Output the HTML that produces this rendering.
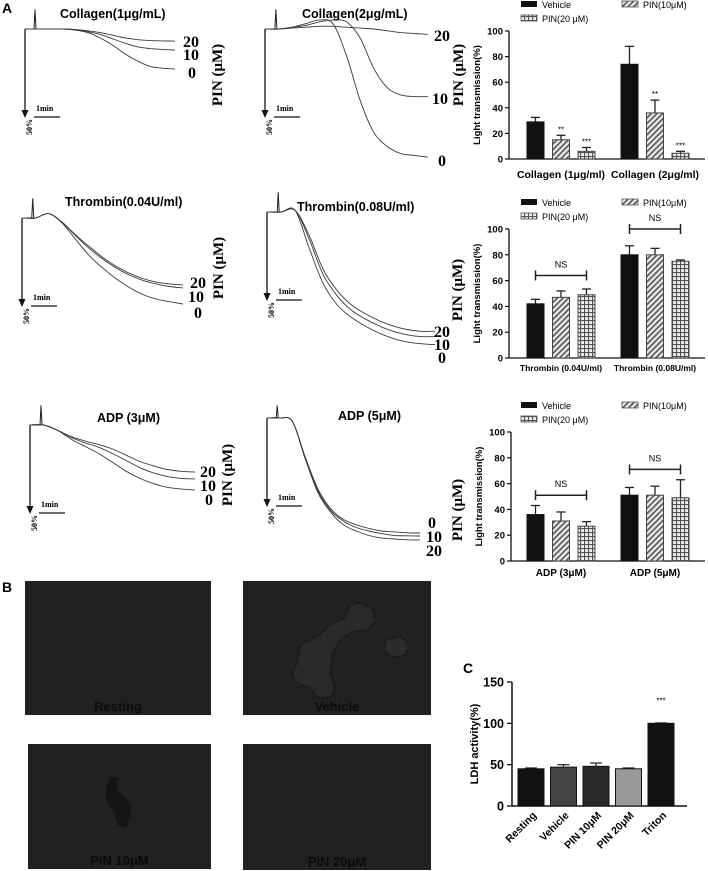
<!DOCTYPE html>
<html><head><meta charset="utf-8"><style>
html,body{margin:0;padding:0;background:#fff;}
svg{display:block;}
.t{font-family:"Liberation Sans",sans-serif;font-weight:bold;}
.s{font-family:"Liberation Serif",serif;font-weight:bold;}
</style></head><body>
<svg id="fig" width="708" height="871" viewBox="0 0 708 871" xmlns="http://www.w3.org/2000/svg">
<defs>
<pattern id="hatch" width="4" height="4" patternUnits="userSpaceOnUse" patternTransform="rotate(45)"><rect width="4" height="4" fill="#e8e8e8"/><rect width="1.6" height="4" fill="#555"/></pattern>
<pattern id="grid" width="4" height="4" patternUnits="userSpaceOnUse"><rect width="4" height="4" fill="#eee"/><rect width="4" height="1.1" fill="#555"/><rect width="1.1" height="4" fill="#555"/></pattern>
</defs>
</svg>
<script>
// ---------- Trace data (light transmission change %, time in minutes) ----------
const traceTimes = [0,0.5,1,1.5,2,2.5,3,3.5,4,4.5,5,5.5,6];
const col1_pin0  = [0,0,0,0,0.5,2,5,9,14,18,21,22,22.5];
const col1_pin10 = [0,0,0,0,0.5,1.5,3,5.5,8,10,11,11.5,11.8];
const col1_pin20 = [0,0,0,0,0.3,1,2,3.5,5,6,6.5,6.7,6.8];
const col2_pin0  = [0,0,-1,-3,-5,-3,15,40,58,66,70,71,72];
const col2_pin10 = [0,0,-1,-2,-4,-5,-4,5,22,33,37,38,38];
const col2_pin20 = [0,0,-0.5,-1,-1.5,-1.5,-1,-0.5,0,1,2,2.5,3];
const thr1_pin0  = [0,0,-2.5,3,12,21,28,34,39,43,45.5,47,48.3];
const thr1_pin10 = [0,0,-2.5,2.5,10,17,23,28,32,35,37,38.5,39.3];
const thr1_pin20 = [0,0,-2.5,2.5,9.5,16,22,27,31,34,36,37,37.6];
const thr2_pin0  = [0,0,-1,20,40,52,59,64,68,71,73,74,74.5];
const thr2_pin10 = [0,0,-1,15,35,47,55,60,64,67,69,70,70];
const thr2_pin20 = [0,0,-1,13,32,44,52,57,61,64,66,67,67];
const adp1_pin0  = [0,0,3,8,12,16,21,26,30,33,35,36,36.5];
const adp1_pin10 = [0,0,3,7,10,12.5,16,20,24,27,29,30,30.3];
const adp1_pin20 = [0,0,3,6.5,9,11,13.5,17,20.5,23,25,26,26.4];
const adp2_pin0  = [0,0,2,22,40,51,57,60,62,63.5,64,64.5,64.6];
const adp2_pin10 = [0,0,2,23,41,52,58,61.5,63.5,65,66,66.2,66.3];
const adp2_pin20 = [0,0,2,23,42,53,60,63.5,66,67.5,68,68.4,68.5];
const spikeHeights = [11,11,11,11,11,7];

// ---------- Bar data ----------
const legendLabels = ['Vehicle','PIN(10μM)','PIN(20 μM)'];
const colCats = ['Collagen (1μg/ml)','Collagen (2μg/ml)'];
const colVehicle = [29,74], colVehicleErr=[3.5,14];
const colPin10 = [15,36], colPin10Err=[3.5,10];
const colPin20 = [6,4.5], colPin20Err=[3,1.5];
const colPin10Stars = ['**','**'], colPin20Stars=['***','***'];
const thrCats = ['Thrombin (0.04U/ml)','Thrombin (0.08U/ml)'];
const thrVehicle=[42,80], thrVehicleErr=[3.5,7];
const thrPin10=[47,80], thrPin10Err=[5,5];
const thrPin20=[49,75], thrPin20Err=[4.5,1];
const thrNS=[64,100];
const adpCats=['ADP (3μM)','ADP (5μM)'];
const adpVehicle=[36,51], adpVehicleErr=[7,6];
const adpPin10=[31,51], adpPin10Err=[7,7];
const adpPin20=[27,49], adpPin20Err=[3.5,14];
const adpNS=[51,71];
const barTicks=[0,20,40,60,80,100];
const ldhCats=['Resting','Vehicle','PIN 10μM','PIN 20μM','Triton'];
const ldhValues=[45,47,48,45,100];
const ldhErr=[1,3,4,1,0.5];
const ldhTicks=[0,50,100,150];

const NS='http://www.w3.org/2000/svg';
const svg=document.getElementById('fig');
function mk(tag,attrs,parent,text){const e=document.createElementNS(NS,tag);for(const k in attrs)e.setAttribute(k,attrs[k]);if(text!==undefined)e.textContent=text;(parent||svg).appendChild(e);return e;}

[['A',2,13],['B',2,592],['C',463,673]].forEach(([l,x,y])=>{
  const e=mk('text',{x:x,y:y,class:'t','font-size':14},svg,l);
  
  
});

function smooth(pts){let d='M'+pts[0][0]+','+pts[0][1];for(let i=0;i<pts.length-1;i++){const p0=pts[i-1]||pts[i],p1=pts[i],p2=pts[i+1],p3=pts[i+2]||p2;const c1x=p1[0]+(p2[0]-p0[0])/6,c1y=p1[1]+(p2[1]-p0[1])/6,c2x=p2[0]-(p3[0]-p1[0])/6,c2y=p2[1]-(p3[1]-p1[1])/6;d+=' C'+c1x.toFixed(1)+','+c1y.toFixed(1)+' '+c2x.toFixed(1)+','+c2y.toFixed(1)+' '+p2[0].toFixed(1)+','+p2[1].toFixed(1);}return d;}
function tracePanel(cfg,series,spike){
  const g=mk('g',{});
  
  
  const xs=t=>cfg.x0+t*(cfg.x1-cfg.x0)/6;
  const ys=v=>cfg.y0+v*1.78;
  mk('line',{x1:cfg.x0,y1:cfg.y0,x2:cfg.x0,y2:cfg.y0+84,stroke:'#111','stroke-width':1.3},g);
  mk('path',{d:`M${cfg.x0-3.5},${cfg.y0+81} L${cfg.x0+3.5},${cfg.y0+81} L${cfg.x0},${cfg.y0+89} Z`,fill:'#111'},g);
  const sx=xs(0.4);
  mk('path',{d:`M${cfg.x0},${cfg.y0} L${sx-1},${cfg.y0} L${sx},${ys(-spike)} L${sx+1},${cfg.y0} L${xs(0.5)},${cfg.y0}`,fill:'none',stroke:'#222','stroke-width':1},g);
  series.forEach((s,i)=>{
    const pts=traceTimes.map((t,j)=>[xs(t),ys(s[j])]);
    const p=mk('path',{d:smooth(pts),fill:'none',stroke:'#3a3a3a','stroke-width':0.9},g);
    
    
  });
  mk('line',{x1:cfg.x0+9,y1:cfg.y0+88,x2:cfg.x0+35,y2:cfg.y0+88,stroke:'#111','stroke-width':1.2},g);
  mk('text',{x:cfg.x0+11,y:cfg.y0+82,class:'s','font-size':8},g,'1min');
  mk('text',{x:0,y:0,class:'s','font-size':8,transform:`translate(${cfg.x0+7},${cfg.y0+106}) rotate(-90)`},g,'50%');
  const tt=mk('text',{x:cfg.tx,y:cfg.ty,class:'t','font-size':12.5},g,cfg.title);
  
  
  cfg.labels.forEach(([txt,x,y])=>mk('text',{x:x,y:y,class:'s','font-size':16},g,txt));
  mk('text',{x:0,y:0,class:'s','font-size':15,'text-anchor':'middle',transform:`translate(${cfg.px},${cfg.py}) rotate(-90)`},g,'PIN (μM)');
}
tracePanel({name:'trace-collagen-1',x0:25,x1:175,y0:29,tx:60,ty:18,title:'Collagen(1μg/mL)',labels:[['20',183,47],['10',183,60],['0',188,78]],px:222,py:75},[col1_pin0,col1_pin10,col1_pin20],spikeHeights[0]);
tracePanel({name:'trace-collagen-2',x0:265,x1:428,y0:29,tx:302,ty:18,title:'Collagen(2μg/mL)',labels:[['20',434,41],['10',432,104],['0',438,166]],px:463,py:75},[col2_pin0,col2_pin10,col2_pin20],spikeHeights[1]);
tracePanel({name:'trace-thrombin-1',x0:22,x1:183,y0:218,tx:65,ty:206,title:'Thrombin(0.04U/ml)',labels:[['20',190,288],['10',188,302],['0',194,318]],px:223,py:268},[thr1_pin0,thr1_pin10,thr1_pin20],spikeHeights[2]);
tracePanel({name:'trace-thrombin-2',x0:267,x1:435,y0:212,tx:297,ty:211,title:'Thrombin(0.08U/ml)',labels:[['20',434,337],['10',434,350],['0',438,363]],px:462,py:290},[thr2_pin0,thr2_pin10,thr2_pin20],spikeHeights[3]);
tracePanel({name:'trace-adp-1',x0:30,x1:195,y0:425,tx:97,ty:422,title:'ADP (3μM)',labels:[['20',200,477],['10',200,491],['0',205,505]],px:232,py:475},[adp1_pin0,adp1_pin10,adp1_pin20],spikeHeights[4]);
tracePanel({name:'trace-adp-2',x0:267,x1:420,y0:418,tx:338,ty:420,title:'ADP (5μM)',labels:[['0',428,528],['10',426,542],['20',426,556]],px:462,py:510},[adp2_pin0,adp2_pin10,adp2_pin20],spikeHeights[5]);

const fills=['#111','url(#hatch)','url(#grid)'];
function barChart(cfg,vals,errs,stars,ns){
  const g=mk('g',{});
  
  
  const y=v=>cfg.yZero-(v/100)*(cfg.yZero-cfg.yTop);
  const bx=(gi,i)=>cfg.start+gi*94+i*25.5;
  const lg=[[521,cfg.ly,0],[622,cfg.ly,1],[521,cfg.ly+14,2]];
  lg.forEach(([x,yy,i])=>{
    const r=mk('rect',{x:x,y:yy-4,width:16,height:6,fill:fills[i],stroke:i?'#555':'none','stroke-width':0.8},g);
    
    
    const t=mk('text',{x:x+21,y:yy+3,class:'t','font-size':9,style:'font-weight:normal'},g,legendLabels[i]);
    
    
  });
  mk('line',{x1:cfg.ax,y1:cfg.yTop,x2:cfg.ax,y2:cfg.yZero,stroke:'#111','stroke-width':1.3},g);
  mk('line',{x1:cfg.ax,y1:cfg.yZero,x2:705,y2:cfg.yZero,stroke:'#111','stroke-width':1.3},g);
  barTicks.forEach(t=>{
    mk('line',{x1:cfg.ax-4,y1:y(t),x2:cfg.ax,y2:y(t),stroke:'#111','stroke-width':1.2},g);
    const tl=mk('text',{x:cfg.ax-6,y:y(t)+3.5,class:'t','font-size':9.5,'text-anchor':'end'},g,t);
    
    
  });
  const yt=mk('text',{x:0,y:0,class:'t','font-size':9.5,'text-anchor':'middle',transform:`translate(${cfg.ax-29},${(cfg.yTop+cfg.yZero)/2}) rotate(-90)`},g,'Light transmission(%)');
  
  
  for(let gi=0;gi<2;gi++){
    for(let i=0;i<3;i++){
      const v=vals[i][gi],e=errs[i][gi],x=bx(gi,i);
      mk('line',{x1:x+8.5,y1:y(v),x2:x+8.5,y2:y(v+e),stroke:'#222','stroke-width':1.3},g);
      mk('line',{x1:x+4,y1:y(v+e),x2:x+13,y2:y(v+e),stroke:'#222','stroke-width':1.3},g);
      const b=mk('rect',{x:x,y:y(v),width:17,height:cfg.yZero-y(v),fill:fills[i],stroke:i?'#444':'#111','stroke-width':1},g);
      
      
      if(stars&&stars[i]&&stars[i][gi]) mk('text',{x:x+8.5,y:y(v+e)-3,class:'t','font-size':8,'text-anchor':'middle',style:'font-weight:normal'},g,stars[i][gi]);
    }
    const cl=mk('text',{x:bx(gi,1)+8.5,y:cfg.cy,class:'t','font-size':cfg.cf,'text-anchor':'middle'},g,cfg.cats[gi]);
    
    
    if(ns){
      const yy=y(ns[gi]),x1=bx(gi,0)+8.5,x2=bx(gi,2)+8.5;
      mk('line',{x1:x1,y1:yy,x2:x2,y2:yy,stroke:'#222','stroke-width':1.5},g);
      mk('line',{x1:x1,y1:yy-5,x2:x1,y2:yy+5,stroke:'#222','stroke-width':1.5},g);
      mk('line',{x1:x2,y1:yy-5,x2:x2,y2:yy+5,stroke:'#222','stroke-width':1.5},g);
      mk('text',{x:(x1+x2)/2,y:yy-8,class:'t','font-size':9,'text-anchor':'middle',style:'font-weight:normal'},g,'NS');
    }
  }
}
barChart({name:'bar-chart-collagen',start:527,ax:509,yTop:31,yZero:159,ly:5,cy:178,cf:10.5,cats:colCats},[colVehicle,colPin10,colPin20],[colVehicleErr,colPin10Err,colPin20Err],[null,colPin10Stars,colPin20Stars],null);
barChart({name:'bar-chart-thrombin',start:527,ax:509,yTop:229,yZero:358,ly:203,cy:371,cf:8.5,cats:thrCats},[thrVehicle,thrPin10,thrPin20],[thrVehicleErr,thrPin10Err,thrPin20Err],null,thrNS);
barChart({name:'bar-chart-adp',start:527,ax:511,yTop:432,yZero:561,ly:406,cy:576,cf:10,cats:adpCats},[adpVehicle,adpPin10,adpPin20],[adpVehicleErr,adpPin10Err,adpPin20Err],null,adpNS);

(function(){
  const g=mk('g',{});
  
  
  const ax=512,yTop=682,yZero=806;
  const y=v=>yZero-(v/150)*(yZero-yTop);
  const cx=i=>531+i*32.5;
  const cols=['#111','#444','#2a2a2a','#999','#111'];
  mk('line',{x1:ax,y1:yTop,x2:ax,y2:yZero,stroke:'#111','stroke-width':1.5},g);
  mk('line',{x1:ax,y1:yZero,x2:687,y2:yZero,stroke:'#111','stroke-width':1.5},g);
  ldhTicks.forEach(t=>{
    mk('line',{x1:ax-5,y1:y(t),x2:ax,y2:y(t),stroke:'#111','stroke-width':1.3},g);
    const tl=mk('text',{x:ax-8,y:y(t)+4.5,class:'t','font-size':12.5,'text-anchor':'end'},g,t);
    
    
  });
  const yt=mk('text',{x:0,y:0,class:'t','font-size':11,'text-anchor':'middle',transform:`translate(${ax-34},${(yTop+yZero)/2}) rotate(-90)`},g,'LDH activity(%)');
  
  
  ldhCats.forEach((c,i)=>{
    const v=ldhValues[i],e=ldhErr[i],x=cx(i);
    mk('line',{x1:x,y1:y(v),x2:x,y2:y(v+e),stroke:'#222','stroke-width':1.2},g);
    mk('line',{x1:x-6,y1:y(v+e),x2:x+6,y2:y(v+e),stroke:'#222','stroke-width':1.2},g);
    const b=mk('rect',{x:x-13,y:y(v),width:26,height:yZero-y(v),fill:cols[i],stroke:'#111','stroke-width':1},g);
    
    
    const l=mk('text',{x:0,y:0,class:'t','font-size':10.5,'text-anchor':'end',transform:`translate(${x+6},${yZero+10}) rotate(-45)`},g,c);
    
    
  });
  mk('text',{x:cx(4),y:y(ldhValues[4])-20,class:'t','font-size':8,'text-anchor':'middle',style:'font-weight:normal'},g,'***');
})();

// ---------- microscopy images ----------
[['Resting',25,581,186,134],['Vehicle',243,581,188,134],['PIN 10μM',28,744,183,125],['PIN 20μM',243,744,188,126]].forEach(([lab,x,y,w,h])=>{
  const g=mk('g',{});
  
  
  mk('rect',{x:x,y:y,width:w,height:h,fill:'#212121'},g);
  if(lab==='Vehicle'){
    const agg=mk('path',{d:'M300,645 L318,636 L330,625 L345,618 L350,605 L360,603 L372,608 L376,620 L368,630 L352,632 L340,640 L332,655 L330,672 L335,688 L332,697 L318,698 L310,688 L300,685 L292,675 L298,660 Z',fill:'#2a2a2a',stroke:'#141414','stroke-width':2,'stroke-dasharray':'1.5 1.5'},g);
    
    
    mk('path',{d:'M386,640 L400,636 L410,645 L404,656 L392,657 L384,650 Z',fill:'#2c2c2c',stroke:'#141414','stroke-width':2,'stroke-dasharray':'1.5 1.5'},g);
  }
  if(lab==='PIN 10μM'){
    mk('path',{d:'M110,777 L118,778 L117,790 L128,800 L132,812 L126,828 L118,826 L114,812 L106,800 L106,788 Z',fill:'#141414'},g);
  }
  mk('text',{x:x+w/2,y:y+h-4,class:'t','font-size':13,'text-anchor':'middle',fill:'#0b0b0b'},g,lab);
});
</script>
</body></html>
